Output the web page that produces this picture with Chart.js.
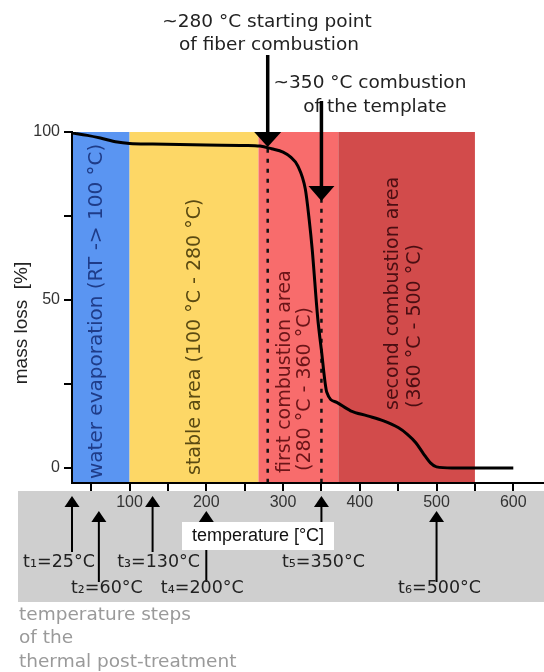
<!DOCTYPE html>
<html>
<head>
<meta charset="utf-8">
<script src="https://cdn.jsdelivr.net/npm/chart.js@4.4.1/dist/chart.umd.min.js"></script>
<style>
  body { margin: 0; background: #fff; }
  canvas { display: block; }
</style>
</head>
<body>
<canvas id="chart" width="544" height="672"></canvas>
<script>
// TGA curve
const temperatures = [25, 45, 62, 84, 100, 130, 200, 250, 270, 285, 300, 310, 319, 329, 334, 338, 345, 350, 357, 370, 388, 410, 431, 450, 462, 473, 483, 492, 500, 520, 600];
const massLoss = [99.7, 99, 98.2, 97, 96.6, 96.4, 96.1, 96, 95.8, 95, 94, 92.5, 90, 83, 74, 65, 45, 35, 22.5, 19.5, 17, 15.5, 14, 12, 10, 7.5, 4.2, 1.5, 0.3, 0, 0];

const xTicks = [50, 100, 150, 200, 250, 300, 350, 400, 450, 500, 550, 600];
const yTicks = [0, 25, 50, 75, 100];

// temperature areas
const bandFrom = [25, 100, 268, 372];
const bandTo = [100, 268, 372, 550];
const bandColors = ["#5a95f2", "#fdd766", "#f86c6c", "#d24b4b"];

const markerTemps = [280, 350];

// thermal post-treatment steps
const stepTemps = [25, 60, 130, 200, 350, 500];
const stepLabels = ["t\u2081=25°C", "t\u2082=60°C", "t\u2083=130°C", "t\u2084=200°C", "t\u2085=350°C", "t\u2086=500°C"];

const ANN = '"DejaVu Sans", Verdana, sans-serif';
const SANS = '"Liberation Sans", Arial, sans-serif';

function arrow(ctx, x, yFrom, yTip, headW, headH, lw) {
    const dir = Math.sign(yTip - yFrom);
    ctx.save();
    ctx.strokeStyle = "#000";
    ctx.fillStyle = "#000";
    ctx.lineWidth = lw;
    ctx.beginPath();
    ctx.moveTo(x, yFrom);
    ctx.lineTo(x, yTip - dir * headH + dir);
    ctx.stroke();
    ctx.beginPath();
    ctx.moveTo(x, yTip);
    ctx.lineTo(x - headW / 2, yTip - dir * headH);
    ctx.lineTo(x + headW / 2, yTip - dir * headH);
    ctx.closePath();
    ctx.fill();
    ctx.restore();
}

function upText(ctx, text, x, yStart, color) {
    ctx.save();
    ctx.translate(x, yStart);
    ctx.rotate(-Math.PI / 2);
    ctx.fillStyle = color;
    ctx.textAlign = "left";
    ctx.textBaseline = "middle";
    ctx.fillText(text, 0, 0);
    ctx.restore();
}

const decor = {
    id: "decor",
    beforeDraw(chart) {
        const ctx = chart.ctx;
        const x = chart.scales.x, y = chart.scales.y;
        const area = chart.chartArea;

        // grey strip under the axis
        ctx.fillStyle = "#cfcfcf";
        ctx.fillRect(18, area.bottom + 8, chart.width - 18, 111);

        // areas
        for (let i = 0; i < bandFrom.length; i++) {
            const l = x.getPixelForValue(bandFrom[i]);
            const r = x.getPixelForValue(bandTo[i]);
            ctx.fillStyle = bandColors[i];
            ctx.fillRect(l, y.getPixelForValue(100), r - l, area.bottom - y.getPixelForValue(100));
        }

        ctx.font = "20px " + ANN;
        upText(ctx, "water evaporation (RT -> 100 °C)", 97, 479, "#1f3c88");
        ctx.font = "19px " + ANN;
        upText(ctx, "stable area (100 °C - 280 °C)", 195, 475, "#5a4a12");
        upText(ctx, "first combustion area", 285, 473, "#6b1518");
        upText(ctx, "(280 °C - 360 °C)", 305, 471, "#6b1518");
        upText(ctx, "second combustion area", 393, 410, "#4a0e12");
        upText(ctx, "(360 °C - 500 °C)", 415, 408, "#4a0e12");

        // dotted markers
        ctx.save();
        ctx.strokeStyle = "#111";
        ctx.lineWidth = 2.5;
        ctx.setLineDash([4, 6]);
        markerTemps.forEach(t => {
            const px = x.getPixelForValue(t);
            ctx.beginPath();
            ctx.moveTo(px, y.getPixelForValue(98));
            ctx.lineTo(px, area.bottom);
            ctx.stroke();
        });
        ctx.restore();
    },
    afterDatasetsDraw(chart) {
        const ctx = chart.ctx;
        const x = chart.scales.x;

        // callouts above the plot
        ctx.save();
        ctx.font = "18.5px " + ANN;
        ctx.fillStyle = "#222";
        ctx.textAlign = "center";
        ctx.textBaseline = "middle";
        ctx.fillText("~280 °C starting point", 267, 22);
        ctx.fillText("of fiber combustion", 269, 45);
        ctx.fillText("~350 °C combustion", 370, 83);
        ctx.fillText("of the template", 375, 107);
        ctx.restore();
        arrow(ctx, x.getPixelForValue(markerTemps[0]), 55, 147, 27, 15, 3.5);
        arrow(ctx, x.getPixelForValue(markerTemps[1]), 101, 201, 26, 15, 3.5);

        // step arrows in the grey strip
        const rows = [
            { head: 496, tail: 552, label: 562 },
            { head: 511, tail: 582, label: 588 }
        ];
        const rowOf = [0, 1, 0, 1, 0, 1];
        const labelShift = [-13, 8, 6, -4, 2, 3];
        stepTemps.forEach((t, i) => {
            const px = x.getPixelForValue(t);
            const row = rows[rowOf[i]];
            const tail = i === 4 ? 524 : row.tail;
            arrow(ctx, px, tail, row.head, 15, 11, 2);
        });

        // axis title box
        ctx.fillStyle = "#fff";
        ctx.fillRect(182, 522, 152, 28);
        ctx.font = "18px " + SANS;
        ctx.fillStyle = "#111";
        ctx.textAlign = "center";
        ctx.textBaseline = "middle";
        ctx.fillText("temperature [°C]", 258, 536);

        ctx.font = "17.5px " + ANN;
        ctx.fillStyle = "#222";
        stepTemps.forEach((t, i) => {
            const px = x.getPixelForValue(t);
            ctx.fillText(stepLabels[i], px + labelShift[i], rows[rowOf[i]].label);
        });

        // note under the strip
        ctx.font = "18.5px " + ANN;
        ctx.fillStyle = "#9a9a9a";
        ctx.textAlign = "left";
        ctx.fillText("temperature steps", 19, 615);
        ctx.fillText("of the", 19, 638);
        ctx.fillText("thermal post-treatment", 19, 662);

        // y title
        ctx.save();
        ctx.translate(22, 323);
        ctx.rotate(-Math.PI / 2);
        ctx.font = "19px " + SANS;
        ctx.fillStyle = "#222";
        ctx.textAlign = "center";
        ctx.fillText("mass loss  [%]", 0, 0);
        ctx.restore();
    }
};

new Chart(document.getElementById("chart"), {
    type: "line",
    data: {
        datasets: [{
            data: temperatures.map((t, i) => ({ x: t, y: massLoss[i] })),
            borderColor: "#000",
            borderWidth: 3,
            pointRadius: 0,
            cubicInterpolationMode: "monotone",
            fill: false
        }]
    },
    options: {
        responsive: false,
        animation: false,
        devicePixelRatio: 1,
        layout: { padding: { top: 132, left: 0, right: 0, bottom: 159 } },
        plugins: { legend: { display: false }, tooltip: { enabled: false } },
        scales: {
            x: {
                type: "linear",
                min: 25,
                max: 640,
                afterBuildTicks: s => { s.ticks = xTicks.map(v => ({ value: v })); },
                afterFit: s => { s.height = 30; },
                border: { display: true, color: "#000", width: 2 },
                grid: { drawOnChartArea: false, drawTicks: true, tickLength: 8, color: "#000", lineWidth: 2 },
                ticks: {
                    autoSkip: false,
                    maxRotation: 0,
                    padding: 2,
                    color: "#333",
                    font: { family: SANS, size: 16 },
                    callback: v => (v % 100 === 0 ? v : "")
                }
            },
            y: {
                min: -4.5,
                max: 100,
                afterBuildTicks: s => { s.ticks = yTicks.map(v => ({ value: v })); },
                afterFit: s => { s.width = 72; },
                border: { display: true, color: "#000", width: 2 },
                grid: { drawOnChartArea: false, drawTicks: true, tickLength: 8, color: "#000", lineWidth: 2 },
                ticks: {
                    autoSkip: false,
                    padding: 4,
                    color: "#333",
                    font: { family: SANS, size: 16 },
                    callback: v => (v % 50 === 0 ? v : "")
                }
            }
        }
    },
    plugins: [decor]
});
</script>
</body>
</html>
